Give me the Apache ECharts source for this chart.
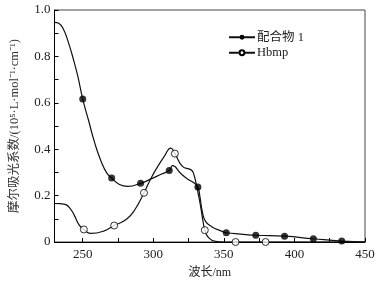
<!DOCTYPE html>
<html>
<head>
<meta charset="utf-8">
<script src="https://cdn.jsdelivr.net/npm/echarts@6/dist/echarts.min.js"></script>
<style>
  html, body { margin: 0; padding: 0; background: #fff; }
  #chart { width: 389px; height: 285px; }
</style>
</head>
<body>
<div id="chart"></div>
<script>
// wavelength (nm) / absorption
var complexCurve = [
  [230, 0.947], [233, 0.943], [236.5, 0.915], [240, 0.857], [243.5, 0.785],
  [246.5, 0.715], [250, 0.616], [254, 0.527], [258.5, 0.427], [263, 0.348],
  [267, 0.298], [270.5, 0.276], [276, 0.248], [282, 0.240], [291, 0.253],
  [298.5, 0.272], [305.5, 0.292], [311.3, 0.308], [313.7, 0.329], [319.5, 0.295],
  [324.2, 0.272], [328.8, 0.255], [331.6, 0.237], [333, 0.197], [334.7, 0.132],
  [337, 0.089], [341.7, 0.065], [348.7, 0.046], [351.7, 0.040], [362, 0.034],
  [372.6, 0.029], [393, 0.025], [413.4, 0.014], [433.5, 0.004], [450, 0]
]
var complexMarks = [
  [250, 0.616], [270.5, 0.276], [291, 0.253], [311.3, 0.308], [331.6, 0.237],
  [351.7, 0.040], [372.6, 0.029], [393, 0.025], [413.4, 0.014], [433.5, 0.004]
]
var hbmpCurve = [
  [230, 0.166], [234, 0.165], [238, 0.161], [241, 0.145], [243.8, 0.118],
  [247.3, 0.075], [250.8, 0.054], [255.5, 0.037], [264.8, 0.047], [272.3, 0.071],
  [281, 0.098], [287, 0.140], [293.4, 0.212], [298.5, 0.276], [303.2, 0.326],
  [307.8, 0.369], [312.4, 0.405], [315.3, 0.381], [320.7, 0.326], [326.5, 0.312],
  [328.4, 0.298], [331.2, 0.226], [333.5, 0.154], [335.4, 0.083], [336.5, 0.051],
  [339.3, 0.018], [344, 0.003], [350, 0], [358.3, 0], [379.6, 0], [450, 0]
]
var hbmpMarks = [
  [250.8, 0.054], [272.3, 0.071], [293.4, 0.212], [315.3, 0.381], [336.5, 0.051],
  [358.3, 0], [379.6, 0]
]

var xLabels = [250, 300, 350, 400, 450]
var xTicks = [250, 275, 300, 325, 350, 375, 400, 425, 450]
var yLabels = [0, 0.2, 0.4, 0.6, 0.8, 1.0]
var yTicks = [0, 0.1, 0.2, 0.3, 0.4, 0.5, 0.6, 0.7, 0.8, 0.9, 1.0]

var seriesNames = ['配合物 1', 'Hbmp']

var font = '"Liberation Serif", "Noto Sans CJK SC", serif'
var chart = echarts.init(document.getElementById('chart'))

chart.setOption({
  animation: false,
  backgroundColor: '#fff',
  grid: {
    left: 52, right: 24, top: 10, bottom: 43,
    show: true, borderColor: '#444', borderWidth: 1
  },
  legend: {
    data: seriesNames,
    orient: 'vertical',
    left: 223, top: 26,
    itemWidth: 26, itemHeight: 6, itemGap: 3,
    textStyle: { fontFamily: font, fontSize: 12.5, color: '#222', padding: [0, 0, 0, -3] }
  },
  xAxis: {
    type: 'value', min: 230, max: 450,
    name: '波长/nm', nameLocation: 'middle', nameGap: 25,
    nameTextStyle: { fontFamily: font, fontSize: 12, color: '#222' },
    axisLine: { lineStyle: { color: '#000', width: 1 } },
    axisTick: { inside: true, length: 4, customValues: xTicks, lineStyle: { color: '#000' } },
    axisLabel: { customValues: xLabels, margin: 6, fontFamily: font, fontSize: 13, color: '#222' },
    splitLine: { show: false }
  },
  yAxis: {
    type: 'value', min: 0, max: 1,
    name: '摩尔吸光系数/(10⁵·L·mol⁻¹·cm⁻¹)', nameLocation: 'middle', nameGap: 34, nameRotate: 90,
    nameTextStyle: { fontFamily: font, fontSize: 12.5, color: '#333' },
    axisLine: { lineStyle: { color: '#000', width: 1 } },
    axisTick: { inside: true, length: 4, customValues: yTicks, lineStyle: { color: '#000' } },
    axisLabel: {
      customValues: yLabels, margin: 4, fontFamily: font, fontSize: 13, color: '#222',
      formatter: function (v) { return v === 0 ? '0' : v.toFixed(1) }
    },
    splitLine: { show: false }
  },
  series: [
    {
      name: seriesNames[0], type: 'line', data: complexCurve,
      smooth: 0.5,
      symbol: 'circle', symbolSize: 6, showSymbol: false,
      lineStyle: { color: '#111', width: 1.2 },
      itemStyle: { color: '#000' }
    },
    {
      name: seriesNames[0], type: 'scatter', data: complexMarks, z: 5,
      symbol: 'circle', symbolSize: 7,
      itemStyle: { color: '#000' }
    },
    {
      name: seriesNames[1], type: 'line', data: hbmpCurve,
      smooth: 0.5,
      symbol: 'circle', symbolSize: 6, showSymbol: false,
      lineStyle: { color: '#111', width: 1.2 },
      itemStyle: { color: '#fff', borderColor: '#000', borderWidth: 1 }
    },
    {
      name: seriesNames[1], type: 'scatter', data: hbmpMarks, z: 5,
      symbol: 'circle', symbolSize: 7,
      itemStyle: { color: '#fff', borderColor: '#000', borderWidth: 1 }
    }
  ]
})
window.addEventListener('resize', chart.resize)
</script>
</body>
</html>
